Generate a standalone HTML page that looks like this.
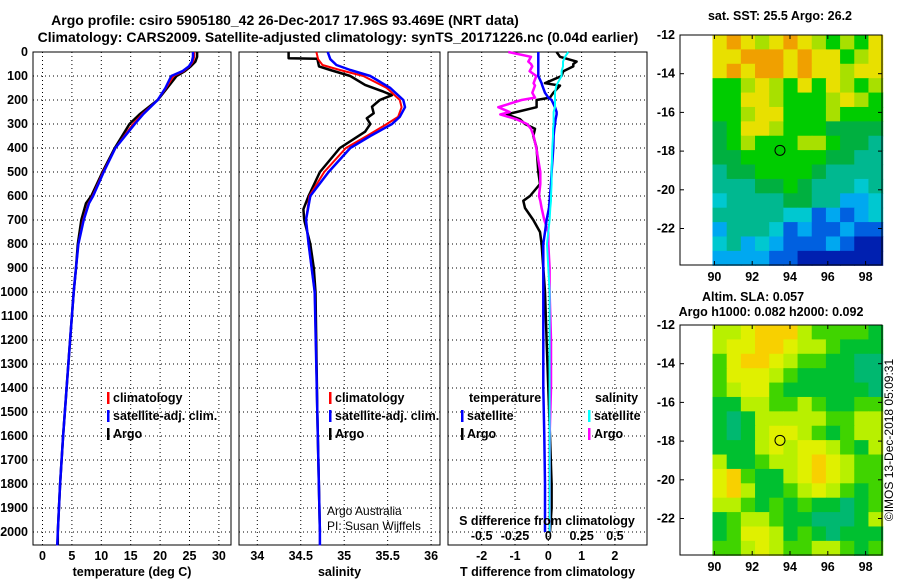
<!DOCTYPE html>
<html><head><meta charset="utf-8"><style>
html,body{margin:0;padding:0;background:#fff;}
svg{display:block;font-family:"Liberation Sans",Arial,sans-serif;}
.t{font-weight:bold;font-size:12.5px;fill:#000;}
.lg{font-size:12.5px;fill:#000;font-weight:bold;}
.grid{stroke:#000;stroke-width:1;stroke-dasharray:1,3;}
</style></head><body>
<svg id="fig" width="900" height="580" viewBox="0 0 900 580">
<text x="285" y="25" text-anchor="middle" style="font-weight:bold;font-size:14px">Argo profile: csiro 5905180_42 26-Dec-2017 17.96S 93.469E (NRT data)</text>
<text x="338" y="42" text-anchor="middle" style="font-weight:bold;font-size:14px">Climatology: CARS2009. Satellite-adjusted climatology: synTS_20171226.nc (0.04d earlier)</text>
<g id="p1"></g>
<g id="p2"></g>
<g id="p3"></g>
<g id="m1"></g>
<g id="m2"></g>
<text x="780" y="20" text-anchor="middle" class="t">sat. SST: 25.5 Argo: 26.2</text>
<text x="753" y="301" text-anchor="middle" class="t">Altim. SLA: 0.057</text>
<text x="771" y="316" text-anchor="middle" class="t">Argo h1000: 0.082 h2000: 0.092</text>
<text transform="translate(893,440) rotate(-90)" text-anchor="middle" style="font-size:12px">©IMOS 13-Dec-2018 05:09:31</text>
</svg>
<script>
// ---- data ----
const depthTicks = [0,100,200,300,400,500,600,700,800,900,1000,1100,1200,1300,1400,1500,1600,1700,1800,1900,2000];
const tempTicks = [0,5,10,15,20,25,30];
const salTicks = [34,34.5,35,35.5,36];
const salTickLabels = ["34","34.5","35","35.5","36"];
const tdiffTicks = [-2,-1,0,1,2];
const sdiffTickLabels = ["-0.5","-0.25","0","0.25","0.5"];
const sdiffTicks = [-0.5,-0.25,0,0.25,0.5];

const tDepth = [0,20,40,60,80,100,150,200,260,300,400,500,600,630,700,800,900,1000,1200,1400,1600,1800,2000,2056];
const tArgo  = [26.3,26.3,26.0,25.2,24.2,22.8,21.2,19.6,16.5,14.8,12.3,10.2,8.3,7.4,6.6,6.0,5.7,5.3,4.7,4.1,3.5,3.0,2.6,2.6];
const tSat   = [25.6,25.6,25.4,24.9,23.8,21.9,20.9,19.6,17.1,15.7,12.4,10.4,8.6,7.9,7.0,6.1,5.7,5.3,4.7,4.1,3.5,3.0,2.6,2.5];
const tClim  = [25.8,25.8,25.6,25.0,24.0,22.3,21.0,19.6,16.9,15.4,12.4,10.3,8.5,7.8,6.9,6.1,5.7,5.3,4.7,4.1,3.5,3.0,2.6,2.5];

const sArgoDepth = [0,26,28,60,75,100,137,165,180,200,228,255,276,300,332,400,500,600,655,700,800,900,1000,1500,2000];
const sArgo = [34.36,34.36,34.69,34.71,34.84,35.07,35.24,35.45,35.55,35.41,35.32,35.34,35.26,35.30,35.24,34.95,34.72,34.59,34.53,34.54,34.61,34.65,34.67,34.69,34.72];
const sDepth = [0,30,54,75,100,150,200,230,270,300,350,400,500,600,700,800,1000,1500,2000,2056];
const sSat  = [34.81,34.84,34.91,35.07,35.30,35.53,35.68,35.70,35.64,35.55,35.30,35.07,34.82,34.61,34.56,34.59,34.66,34.69,34.72,34.72];
const sClim = [34.68,34.70,34.75,34.95,35.22,35.49,35.64,35.66,35.62,35.49,35.26,35.02,34.77,34.60,34.56,34.59,34.66,34.69,34.72,34.72];

const dDepth = [0,20,40,50,60,80,100,130,140,170,190,200,230,250,260,280,300,320,350,400,500,550,600,620,650,700,750,800,900,1000,1200,1400,1600,1800,1900,2000];
const dTArgo = [0.25,0.35,0.85,0.75,0.75,0.45,0.4,-0.1,0.35,0.15,0.05,-0.35,-0.35,-0.95,-1.25,-0.85,-0.7,-0.4,-0.45,-0.35,-0.3,-0.25,-0.55,-0.75,-0.7,-0.45,-0.25,-0.2,-0.15,-0.1,-0.05,0,0.05,0.1,0.1,0.05];
const dSArgo = [-0.30,-0.13,-0.15,-0.13,-0.12,-0.14,-0.09,-0.11,-0.10,-0.12,-0.10,-0.20,-0.375,-0.29,-0.36,-0.24,-0.16,-0.13,-0.11,-0.09,-0.06,-0.06,-0.07,-0.06,-0.05,-0.03,0,0,0.01,0.01,0.02,0.02,0.01,0.01,0.01,0.01];
const dTSat = [-0.3,-0.3,-0.3,-0.3,-0.3,-0.3,-0.3,-0.2,-0.18,-0.1,0,0.1,0.2,0.25,0.25,0.22,0.2,0.18,0.16,0.15,0.1,0.08,0.05,0.04,0.02,-0.05,-0.1,-0.15,-0.15,-0.15,-0.15,-0.15,-0.12,-0.1,-0.1,-0.1];
const dSSat = [0.15,0.125,0.11,0.11,0.11,0.1,0.1,0.07,0.06,0.05,0.05,0.05,0.05,0.04,0.04,0.04,0.04,0.035,0.035,0.03,0.025,0.025,0.02,0.02,0.015,0.01,0,-0.01,0,0.01,0.01,0.01,0.01,0.01,0.01,0.01];

const lonTicks = [90,92,94,96,98];
const latTicks = [-12,-14,-16,-18,-20,-22];
const argoLon = 93.47, argoLat = -17.96;
const sstGrid = [
"YOYLYOYLGLGY","YYOOOYOYYGLY","YOYOOYOYYLYY","GGLYLGYGYLGL",
"GGYYLGGGLYLG","GGLYYGGGLGGG","gGYYLGGGgggg","gGLGGGLLGggT",
"ggGGGGGGggTT","TggGGGGgTTTT","TTTggGgTTTCT","CTTTTggTTccC",
"TTTTTCCBcBcC","cTTTCBcBBcBB","CTcCcBBBcBDD","ccccBBDDDDDD"];
const slaGrid = [
"LLYOOOLGGGGg","LYYOOYLLGggg","GYOOYLGGggTT","GYYYLGggggTT",
"GLYYGggggggT","ggLLGGLGggGG","gTgLLLLLGGLL","gTgLYYLGgGLL",
"gggLYLYYLGgL","LggGLLYOYLGG","YOGggLYOYLGG","YOLggGLYLGgG",
"LLGgGgGggTgG","gGLLGggTTTgL","gGYYLgGgTggg","GGLYLGGLLGgG"];

// ---- helpers ----
const NS="http://www.w3.org/2000/svg";
function mk(parent,tag,attrs,text){const e=document.createElementNS(NS,tag);for(const k in attrs)e.setAttribute(k,attrs[k]);if(text!==undefined)e.textContent=text;parent.appendChild(e);return e;}
const yTop=52, yBot=545;
const yD = d => yTop + d*0.24;

function panel(g,x0,x1,xs,xTicks,xLabels,title,name){
  depthTicks.forEach(d=>{
    const gl=mk(g,'line',{x1:x0,x2:x1,y1:yD(d),y2:yD(d),class:'grid'});
    
    
  });
  xTicks.forEach((v,i)=>{
    const gl=mk(g,'line',{x1:xs(v),x2:xs(v),y1:yTop,y2:yBot,class:'grid'});
    
    
    const tl=mk(g,'text',{x:xs(v),y:560,'text-anchor':'middle',class:'t'},xLabels[i]);
    
    
  });
  const fr=mk(g,'rect',{x:x0,y:yTop,width:x1-x0,height:yBot-yTop,fill:'none',stroke:'#000','stroke-width':1});
  
  
  const at=mk(g,'text',{x:(x0+x1)/2,y:576,'text-anchor':'middle',class:'t'},title);
  
  
}
function series(g,depths,vals,xs,color,w,name){
  const pts=depths.map((d,i)=>xs(vals[i]).toFixed(1)+','+yD(d).toFixed(1)).join(' ');
  const p=mk(g,'polyline',{points:pts,fill:'none',stroke:color,'stroke-width':w,'stroke-linejoin':'round'});
  
  
}
function legend(g,x,y,color,label){
  const b=mk(g,'rect',{x:x,y:y-10,width:2.5,height:12,fill:color});
  
  
  const t=mk(g,'text',{x:x+6,y:y,class:'lg'},label);
  
  
}

// panel 1 temperature
const p1=document.getElementById('p1');
const xT = v => 42.5 + v*5.88;
panel(p1,33,231,xT,tempTicks,tempTicks.map(String),'temperature (deg C)','temperature');
depthTicks.forEach(d=>{
  const t=mk(p1,'text',{x:28,y:yD(d)+4,'text-anchor':'end',class:'t'},String(d));
  
  
});
series(p1,tDepth,tArgo,xT,'#000',2.5,'temperature-argo-line');
series(p1,tDepth,tClim,xT,'#f00',2,'temperature-climatology-line');
series(p1,tDepth,tSat,xT,'#00f',2.5,'temperature-satellite-line');
legend(p1,107,402,'#f00','climatology');
legend(p1,107,420,'#00f','satellite-adj. clim.');
legend(p1,107,438,'#000','Argo');

// panel 2 salinity
const p2=document.getElementById('p2');
const xS = v => 257.3 + (v-34)*86.9;
panel(p2,239,440,xS,salTicks,salTickLabels,'salinity','salinity');
series(p2,sArgoDepth,sArgo,xS,'#000',2.5,'salinity-argo-line');
series(p2,sDepth,sClim,xS,'#f00',2,'salinity-climatology-line');
series(p2,sDepth,sSat,xS,'#00f',2.5,'salinity-satellite-line');
legend(p2,329,402,'#f00','climatology');
legend(p2,329,420,'#00f','satellite-adj. clim.');
legend(p2,329,438,'#000','Argo');
const c1=mk(p2,'text',{x:327,y:515,style:'font-size:12px'},'Argo Australia');


const c2=mk(p2,'text',{x:327,y:530,style:'font-size:12px'},'PI: Susan Wijffels');



// panel 3 differences
const p3=document.getElementById('p3');
const xTD = v => 548.3 + v*33.3;
const xSD = v => 548.3 + v*133.3;
panel(p3,448,647,xTD,tdiffTicks,tdiffTicks.map(String),'T difference from climatology','difference');
series(p3,dDepth,dTArgo,xTD,'#000',2.5,'temp-diff-argo-line');
series(p3,dDepth,dSArgo,xSD,'#f0f',2.5,'sal-diff-argo-line');
series(p3,dDepth,dTSat,xTD,'#00f',2.5,'temp-diff-satellite-line');
series(p3,dDepth,dSSat,xSD,'#0ff',2,'sal-diff-satellite-line');
const hT=mk(p3,'text',{x:469,y:402,class:'lg'},'temperature');


const hS=mk(p3,'text',{x:595,y:402,class:'lg'},'salinity');


legend(p3,461,420,'#00f','satellite');
legend(p3,461,438,'#000','Argo');
legend(p3,588,420,'#0ff','satellite');
legend(p3,588,438,'#f0f','Argo');
const sdt=mk(p3,'text',{x:547,y:525,'text-anchor':'middle',class:'t'},'S difference from climatology');


sdiffTicks.forEach((v,i)=>{
  const t=mk(p3,'text',{x:xSD(v),y:540,'text-anchor':'middle',class:'t'},sdiffTickLabels[i]);
  
  
});

// maps
const sstCol={O:'#f0a000',Y:'#e8e000',L:'#a8e000',G:'#00cc00',g:'#00b040',T:'#00b890',C:'#00c8d0',c:'#00a8f0',B:'#0060e0',D:'#0020b0'};
const slaCol={O:'#f8d000',Y:'#e0f000',L:'#b8f000',G:'#40d400',g:'#00c030',T:'#00b870'};
function map(id,y0,grid,cols){
  const g=document.getElementById(id);
  const bx0=680,bx1=882,by0=y0,by1=y0+230;
  const lon0=89.9,lon1=98.9,latTop=-12,latBot=-23.9;
  const px=lon=>714.4+(lon-90)*18.9;
  const py=lat=>y0+(-12-lat)*19.35;
  const nr=grid.length,nc=grid[0].length;
  const cw=(px(lon1)-px(lon0))/nc, ch=(py(latBot)-py(latTop))/nr;
  for(let r=0;r<nr;r++)for(let c=0;c<nc;c++){
    const cell=mk(g,'rect',{x:(px(lon0)+c*cw).toFixed(2),y:(py(latTop)+r*ch).toFixed(2),width:(cw+0.6).toFixed(2),height:(ch+0.6).toFixed(2),fill:cols[grid[r][c]]});
    
    
  }
  const fr=mk(g,'rect',{x:bx0,y:by0,width:bx1-bx0,height:by1-by0,fill:'none',stroke:'#000','stroke-width':1});
  
  
  lonTicks.forEach(v=>{
    mk(g,'line',{x1:px(v),x2:px(v),y1:by0,y2:by0+4,stroke:'#000'});
    mk(g,'line',{x1:px(v),x2:px(v),y1:by1,y2:by1-4,stroke:'#000'});
    const t=mk(g,'text',{x:px(v),y:by1+16,'text-anchor':'middle',class:'t'},String(v));
    
    
  });
  latTicks.forEach(v=>{
    mk(g,'line',{x1:bx0,x2:bx0+4,y1:py(v),y2:py(v),stroke:'#000'});
    mk(g,'line',{x1:bx1,x2:bx1-4,y1:py(v),y2:py(v),stroke:'#000'});
    const t=mk(g,'text',{x:675,y:py(v)+4,'text-anchor':'end',class:'t'},String(v));
    
    
  });
  const ci=mk(g,'circle',{cx:px(argoLon),cy:py(argoLat),r:5,fill:'none',stroke:'#000','stroke-width':1});
  
  
}
map('m1',35,sstGrid,sstCol);
map('m2',325,slaGrid,slaCol);
</script>
</body></html>
